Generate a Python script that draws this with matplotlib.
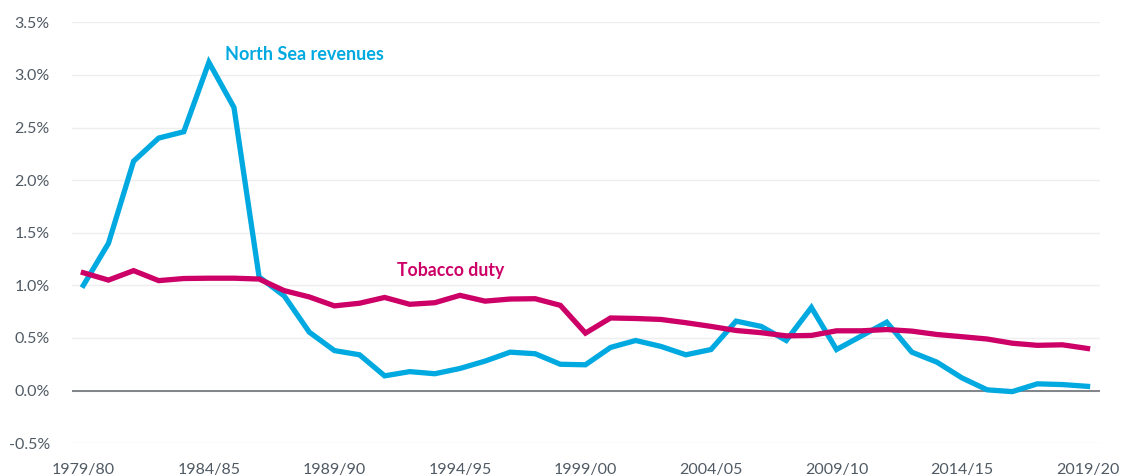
import numpy as np
import matplotlib
matplotlib.use("Agg")
from matplotlib import pyplot as plt
from matplotlib.ticker import FuncFormatter

# financial years 1979/80 .. 2019/20
years = [f"{y}/{str(y + 1)[-2:]}" for y in range(1979, 2020)]

north_sea = [1.00, 1.40, 2.18, 2.40, 2.46, 3.12, 2.69, 1.08, 0.90, 0.555,
             0.38, 0.34, 0.14, 0.18, 0.16, 0.21, 0.28, 0.365, 0.35, 0.25,
             0.245, 0.41, 0.476, 0.42, 0.34, 0.39, 0.66, 0.61, 0.476, 0.79,
             0.39, 0.52, 0.65, 0.365, 0.27, 0.12, 0.007, -0.01, 0.064, 0.057,
             0.04]

tobacco = [1.12, 1.05, 1.14, 1.045, 1.065, 1.068, 1.068, 1.06, 0.95, 0.89,
           0.805, 0.83, 0.885, 0.82, 0.835, 0.905, 0.85, 0.87, 0.873, 0.81,
           0.546, 0.69, 0.685, 0.676, 0.645, 0.61, 0.571, 0.55, 0.52, 0.524,
           0.568, 0.568, 0.58, 0.565, 0.533, 0.512, 0.49, 0.45, 0.43, 0.435,
           0.40]

tick_labels = years[::5]

blue = '#00a9e0'
pink = '#cc0066'
grey = '#505a64'

plt.rcParams['font.family'] = ['Lato', 'DejaVu Sans']

fig = plt.figure(figsize=(11.26, 4.75), dpi=100)
ax = fig.add_axes([0.064, 0.067, 0.913, 0.886])

x = np.arange(len(years))
ax.plot(x, north_sea, color=blue, linewidth=3.8, solid_joinstyle='miter', zorder=3)
ax.plot(x, tobacco, color=pink, linewidth=3.8, solid_joinstyle='miter', zorder=4)

ax.set_ylim(-0.5, 3.5)
ax.set_xlim(-0.45, 40.5)
ax.set_yticks(np.arange(-0.5, 3.51, 0.5))
ax.yaxis.set_major_formatter(FuncFormatter(lambda v, p: f"{v:.1f}%"))
ax.set_xticks(x[::5])
ax.set_xticklabels(tick_labels)

ax.grid(axis='y', color='#eeeeee', linewidth=1)
ax.set_axisbelow(True)
ax.axhline(0, color='#777b80', linewidth=1.3, zorder=2)
for s in ax.spines.values():
    s.set_visible(False)
ax.tick_params(axis='both', length=0, labelsize=11.5, labelcolor=grey)
ax.tick_params(axis='y', pad=16)
ax.tick_params(axis='x', pad=14)

ax.text(5.65, 3.19, 'North Sea revenues', color=blue, fontsize=13,
        fontweight='bold', va='center', ha='left')
ax.text(12.5, 1.14, 'Tobacco duty', color=pink, fontsize=12.7,
        fontweight='bold', va='center', ha='left')

plt.savefig('out.png', dpi=100)
